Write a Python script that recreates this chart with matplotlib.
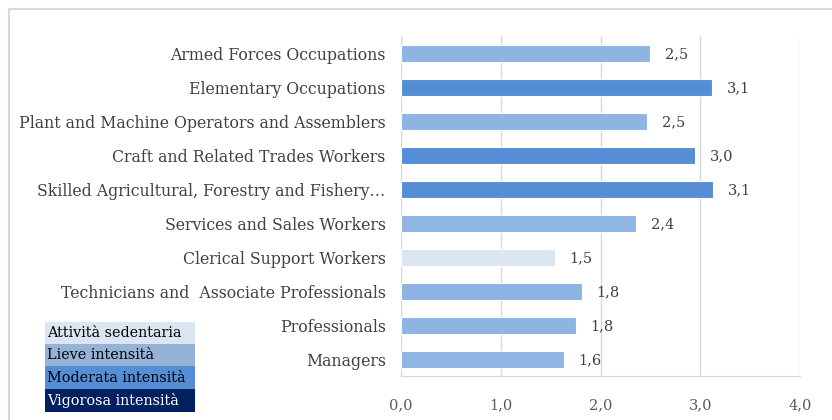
import matplotlib.pyplot as plt
from matplotlib.patches import Rectangle

plt.rcParams['font.family'] = ['DejaVu Serif']

categories = ["Armed Forces Occupations", "Elementary Occupations",
              "Plant and Machine Operators and Assemblers", "Craft and Related Trades Workers",
              "Skilled Agricultural, Forestry and Fishery\u2026", "Services and Sales Workers",
              "Clerical Support Workers", "Technicians and  Associate Professionals",
              "Professionals", "Managers"]
values = [2.50, 3.12, 2.47, 2.95, 3.13, 2.36, 1.54, 1.81, 1.75, 1.63]
labels = ["2,5", "3,1", "2,5", "3,0", "3,1", "2,4", "1,5", "1,8", "1,8", "1,6"]
level = [1, 2, 1, 2, 2, 1, 0, 1, 1, 1]

bar_colors = ["#DCE6F2", "#8EB4E3", "#558ED5"]
legend_names = ["Attività sedentaria", "Lieve intensità", "Moderata intensità", "Vigorosa intensità"]
legend_colors = ["#DCE6F2", "#95B3D7", "#558ED5", "#002060"]
legend_text = ["black", "black", "black", "white"]

fig = plt.figure(figsize=(8.32, 4.2), dpi=100)
ax = fig.add_axes([401/832, 1-376/420, 399/832, 340/420])

y = list(range(len(categories)))
ax.barh(y, values, height=0.5, color=[bar_colors[l] for l in level],
        edgecolor="white", linewidth=0.8, zorder=3)
for yi, v, lab in zip(y, values, labels):
    ax.text(v + 0.15, yi + 0.05, lab, va="center", ha="left", fontsize=10.5, color="#404040")

ax.set_xlim(0, 4)
ax.set_ylim(len(categories) - 0.5, -0.5)
ax.set_yticks(y)
ax.set_yticklabels(categories, fontsize=11.3, color="#404040")
ax.set_xticks([0, 1, 2, 3, 4])
ax.set_xticklabels(["0,0", "1,0", "2,0", "3,0", "4,0"], fontsize=10.5, color="#595959")
ax.tick_params(length=0, pad=11)
ax.tick_params(axis="x", pad=16)
ax.grid(axis="x", color="#D9D9D9", linewidth=1, zorder=0)
for s in ["top", "right"]:
    ax.spines[s].set_visible(False)
ax.spines["left"].set_color("#D9D9D9")
ax.spines["bottom"].set_color("#D9D9D9")

# outer chart border
fig.patches.append(Rectangle((9/832, -0.01), 1.1, 1 - 9/420 + 0.01, transform=fig.transFigure,
                             fill=False, edgecolor="#D9D9D9", linewidth=1.5))

# legend table
x0, x1 = 45/832, 195/832
tops = [322, 344, 366, 389, 412]
for i, (name, c, tc) in enumerate(zip(legend_names, legend_colors, legend_text)):
    yb = 1 - tops[i+1]/420
    h = (tops[i+1] - tops[i])/420
    fig.patches.append(Rectangle((x0, yb), x1 - x0, h, transform=fig.transFigure,
                                 facecolor=c, edgecolor="none"))
    fig.text(x0 + 2/832, yb + h/2, name, va="center", ha="left", fontsize=10.4, color=tc)

fig.savefig("out.png", dpi=100)
